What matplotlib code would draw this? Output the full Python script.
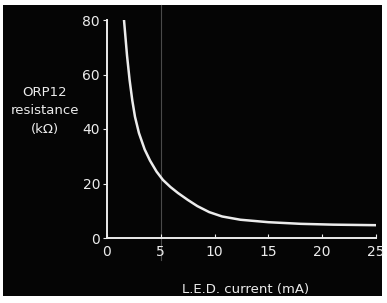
import matplotlib
matplotlib.use("Agg")
import matplotlib.pyplot as plt

# Data
led_current_mA = [1.58, 1.86, 2.1, 2.35, 2.6, 2.97, 3.5, 4.0, 4.6, 5.2, 5.9, 6.6, 7.5,
                  8.4, 9.5, 10.7, 12.4, 15.0, 18.0, 21.0, 25.0]
resistance_kohm = [80, 67, 58, 50.5, 44.5, 38.5, 32.5, 28.4, 24.4, 21.3, 18.7, 16.5, 14.0,
                   11.7, 9.5, 7.9, 6.7, 5.8, 5.2, 4.9, 4.7]
x_ticks = [0, 5, 10, 15, 20, 25]
y_ticks = [0, 20, 40, 60, 80]

W, H = 387, 303
fg = "#ececec"
bg = "#050505"

fig = plt.figure(figsize=(W / 100, H / 100), dpi=100, facecolor="white")

bgax = fig.add_axes([3 / W, 7 / H, (382 - 3) / W, (298 - 7) / H], zorder=0)
bgax.set_facecolor(bg)
bgax.set_xticks([])
bgax.set_yticks([])
for s in bgax.spines.values():
    s.set_visible(False)

ax = fig.add_axes([107 / W, (H - 238) / H, (376 - 107) / W, (238 - 20) / H], zorder=1)
ax.set_facecolor("none")
ax.set_xlim(0, 25)
ax.set_ylim(0, 80)

# faint scan fold line
ax.axvline(5, color="#4a4a4a", lw=0.8, ymin=-0.1, ymax=1.07, clip_on=False, zorder=1)

ax.plot(led_current_mA, resistance_kohm, color=fg, lw=1.8, solid_capstyle="round",
        solid_joinstyle="round", zorder=3)

for s in ["top", "right"]:
    ax.spines[s].set_visible(False)
for s in ["left", "bottom"]:
    ax.spines[s].set_color(fg)
    ax.spines[s].set_linewidth(1.4)

ax.set_xticks(x_ticks)
ax.set_yticks(y_ticks)
ax.tick_params(axis="x", direction="in", length=3, color=fg, labelcolor=fg,
               labelsize=10, pad=5)
ax.tick_params(axis="y", direction="out", length=3, color=fg, labelcolor=fg,
               labelsize=10, pad=2)

fig.text(45 / W, 1 - 111 / H, "ORP12\nresistance\n(kΩ)", color=fg, fontsize=9.5,
         ha="center", va="center", linespacing=1.55, zorder=2)
fig.text(246 / W, 1 - 289 / H, "L.E.D. current (mA)", color=fg, fontsize=9.5,
         ha="center", va="center", zorder=2)

fig.savefig("out.png", dpi=100, facecolor="white")
